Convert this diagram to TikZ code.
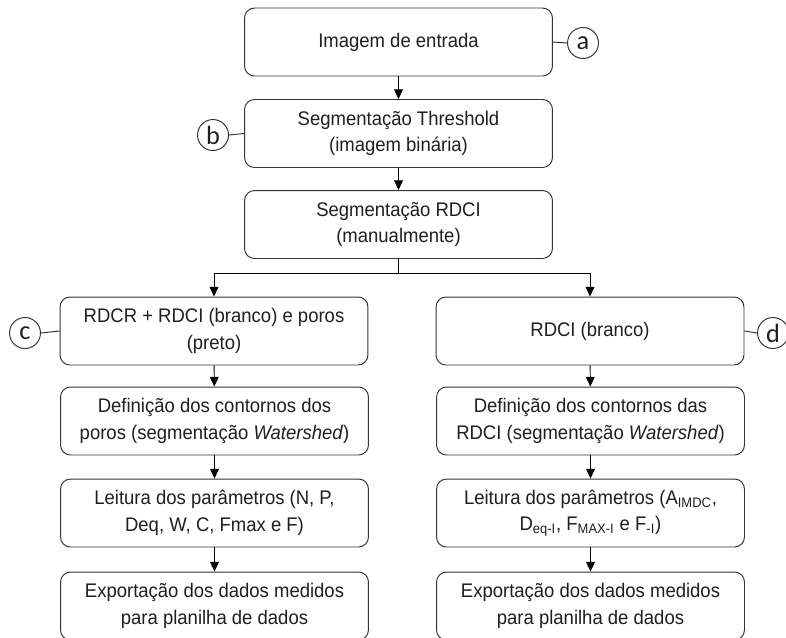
\documentclass[tikz,border=0pt]{standalone}
\usepackage{fontspec}
\usepackage{xcolor}
\usepackage{tikz}
\usetikzlibrary{arrows.meta}
\setmainfont{Liberation Sans}[FakeStretch=0.94]
\newfontfamily\tagfont{Carlito}
\definecolor{txtgray}{HTML}{1F1F1F}
\definecolor{linegray}{HTML}{333333}

\begin{document}
\begin{tikzpicture}[x=0.02cm,y=-0.02cm,line width=0.55pt,
		box/.style={draw=linegray,rounded corners=0.2cm,minimum width=6.16cm,minimum height=1.36cm,
			align=center,text=txtgray,font=\fontsize{11.2}{15}\selectfont,inner sep=0pt},
		tag/.style={draw=linegray,circle,minimum size=0.62cm,inner sep=0pt,text=txtgray,font=\tagfont\fontsize{15}{15}\selectfont},
		flow/.style={-{Triangle[length=5.5pt,width=5pt]},black}]
			\useasboundingbox (0,0) rectangle (786,637);
			% top part
			\node[box] (ent) at (398.5,42) {Imagem de entrada};
			\node[box] (thr) at (398.5,133.5) {Segmentação Threshold\\(imagem binária)};
			\node[box] (rdci) at (398.5,224.5) {Segmentação RDCI\\(manualmente)};
			\node[tag] (ta) at (583,43) {a};
			\node[tag] (tb) at (213,135) {b};
			\draw[linegray] (ent.east) -- (ta.west);
			\draw[linegray] (tb.east) -- (thr.west);
			\draw[flow] (ent) -- (thr);
			\draw[flow] (thr) -- (rdci);
			\coordinate (split) at (398.5,273);
			\draw[black] (rdci) -- (split);
			% left column
			\node[box] (poros) at (214,331) {RDCR + RDCI (branco) e poros\\(preto)};
			\node[box] (lcont) at (214.5,421) {Definição dos contornos dos\\poros (segmentação \textit{Watershed})};
			\node[box] (lpar) at (214.5,513) {Leitura dos parâmetros (N, P,\\Deq, W, C, Fmax e F)};
			\node[box] (lexp) at (214.5,606) {Exportação dos dados medidos\\para planilha de dados};
			\node[tag] (tc) at (25,333) {c};
			\draw[linegray] (tc.east) -- (poros.west);
			% right column
			\node[box] (branco) at (590,331) {RDCI (branco)};
			\node[box] (rcont) at (590.5,421) {Definição dos contornos das\\RDCI (segmentação \textit{Watershed})};
			\node[box] (rpar) at (590.5,513) {Leitura dos parâmetros (A\textsubscript{IMDC},\\D\textsubscript{eq-I}, F\textsubscript{MAX-I} e F\textsubscript{-I})};
			\node[box] (rexp) at (590.5,606) {Exportação dos dados medidos\\para planilha de dados};
			\node[tag] (td) at (773,333) {d};
			\draw[linegray] (branco.east) -- (td.west);
			% arrows
			\draw[flow] (split) -| (poros);
			\draw[flow] (split) -| (branco);
			\foreach \a/\b in {poros/lcont,lcont/lpar,lpar/lexp,branco/rcont,rcont/rpar,rpar/rexp} {
				\draw[flow] (\a) -- (\b);
			}
		\end{tikzpicture}
\end{document}
